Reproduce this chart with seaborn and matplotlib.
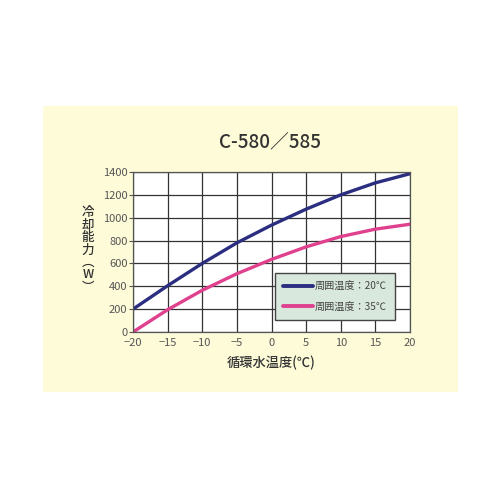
import matplotlib
matplotlib.use("Agg")
import matplotlib.pyplot as plt
import matplotlib.patches as patches
import pandas as pd
import seaborn as sns

# Water temperature (°C) and cooling capacity (W)
water_temp = [-20, -15, -10, -5, 0, 5, 10, 15, 20]
cap_20 = [200, 405, 600, 780, 935, 1075, 1200, 1305, 1385]
cap_35 = [0, 195, 365, 510, 635, 745, 835, 900, 943]
series_names = ["周囲温度：20℃", "周囲温度：35℃"]
x_ticks = [-20, -15, -10, -5, 0, 5, 10, 15, 20]
y_ticks = [0, 200, 400, 600, 800, 1000, 1200, 1400]

df = pd.concat([
    pd.DataFrame({"temp": water_temp, "cap": cap_20, "series": series_names[0]}),
    pd.DataFrame({"temp": water_temp, "cap": cap_35, "series": series_names[1]}),
])

sns.set_theme(style="white")
plt.rcParams["font.family"] = ["Noto Sans CJK JP", "DejaVu Sans"]

fig = plt.figure(figsize=(5, 5), dpi=100)
fig.patch.set_facecolor("white")

# yellow panel behind the chart
fig.add_artist(patches.Rectangle((0.086, 0.216), 0.83, 0.572, transform=fig.transFigure,
                                 facecolor="#fefbd9", edgecolor="none", zorder=-10))

ax = fig.add_axes([0.266, 0.336, 0.554, 0.32])
ax.set_facecolor("white")

sns.lineplot(data=df, x="temp", y="cap", hue="series", ax=ax,
             palette=["#2b2e80", "#e0418e"], linewidth=2.4, legend=False)

ax.set_xlim(-20, 20)
ax.set_ylim(0, 1400)
ax.set_xticks(x_ticks)
ax.set_yticks(y_ticks)
ax.set_xticklabels([str(t).replace("-", "−") for t in x_ticks])
ax.grid(True, color="#333333", linewidth=0.9)
ax.set_axisbelow(True)
for s in ax.spines.values():
    s.set_color("#555555")
    s.set_linewidth(0.9)
ax.tick_params(axis="both", labelsize=8, colors="#555555", length=3, width=0.8, pad=1,
               left=True, bottom=False)
ax.set_xlabel("循環水温度(℃)", fontsize=9.5, color="#333333", labelpad=6, fontweight="medium")
ax.set_ylabel("")

# vertical y label
fig.text(0.176, 0.5, "冷\n却\n能\n力\n︵\nW\n︶", fontsize=9, color="#333333",
         ha="center", va="center", linespacing=0.95, fontweight="medium")

fig.text(0.54, 0.714, "C-580／585", fontsize=13.5, color="#333333", ha="center", va="center",
         fontweight="medium")

handles = [plt.Line2D([], [], color=c, linewidth=2.8) for c in ["#2b2e80", "#e0418e"]]
leg = ax.legend(handles, series_names, loc="lower right", bbox_to_anchor=(0.965, 0.045),
                fontsize=7.3, handlelength=3.0, handletextpad=0.2, borderpad=0.8,
                labelspacing=1.0, frameon=True, fancybox=False, labelcolor="#444444")
leg.get_frame().set_facecolor("#d9e8dc")
leg.get_frame().set_edgecolor("#444444")
leg.get_frame().set_alpha(1)

fig.savefig("out.png", dpi=100)
